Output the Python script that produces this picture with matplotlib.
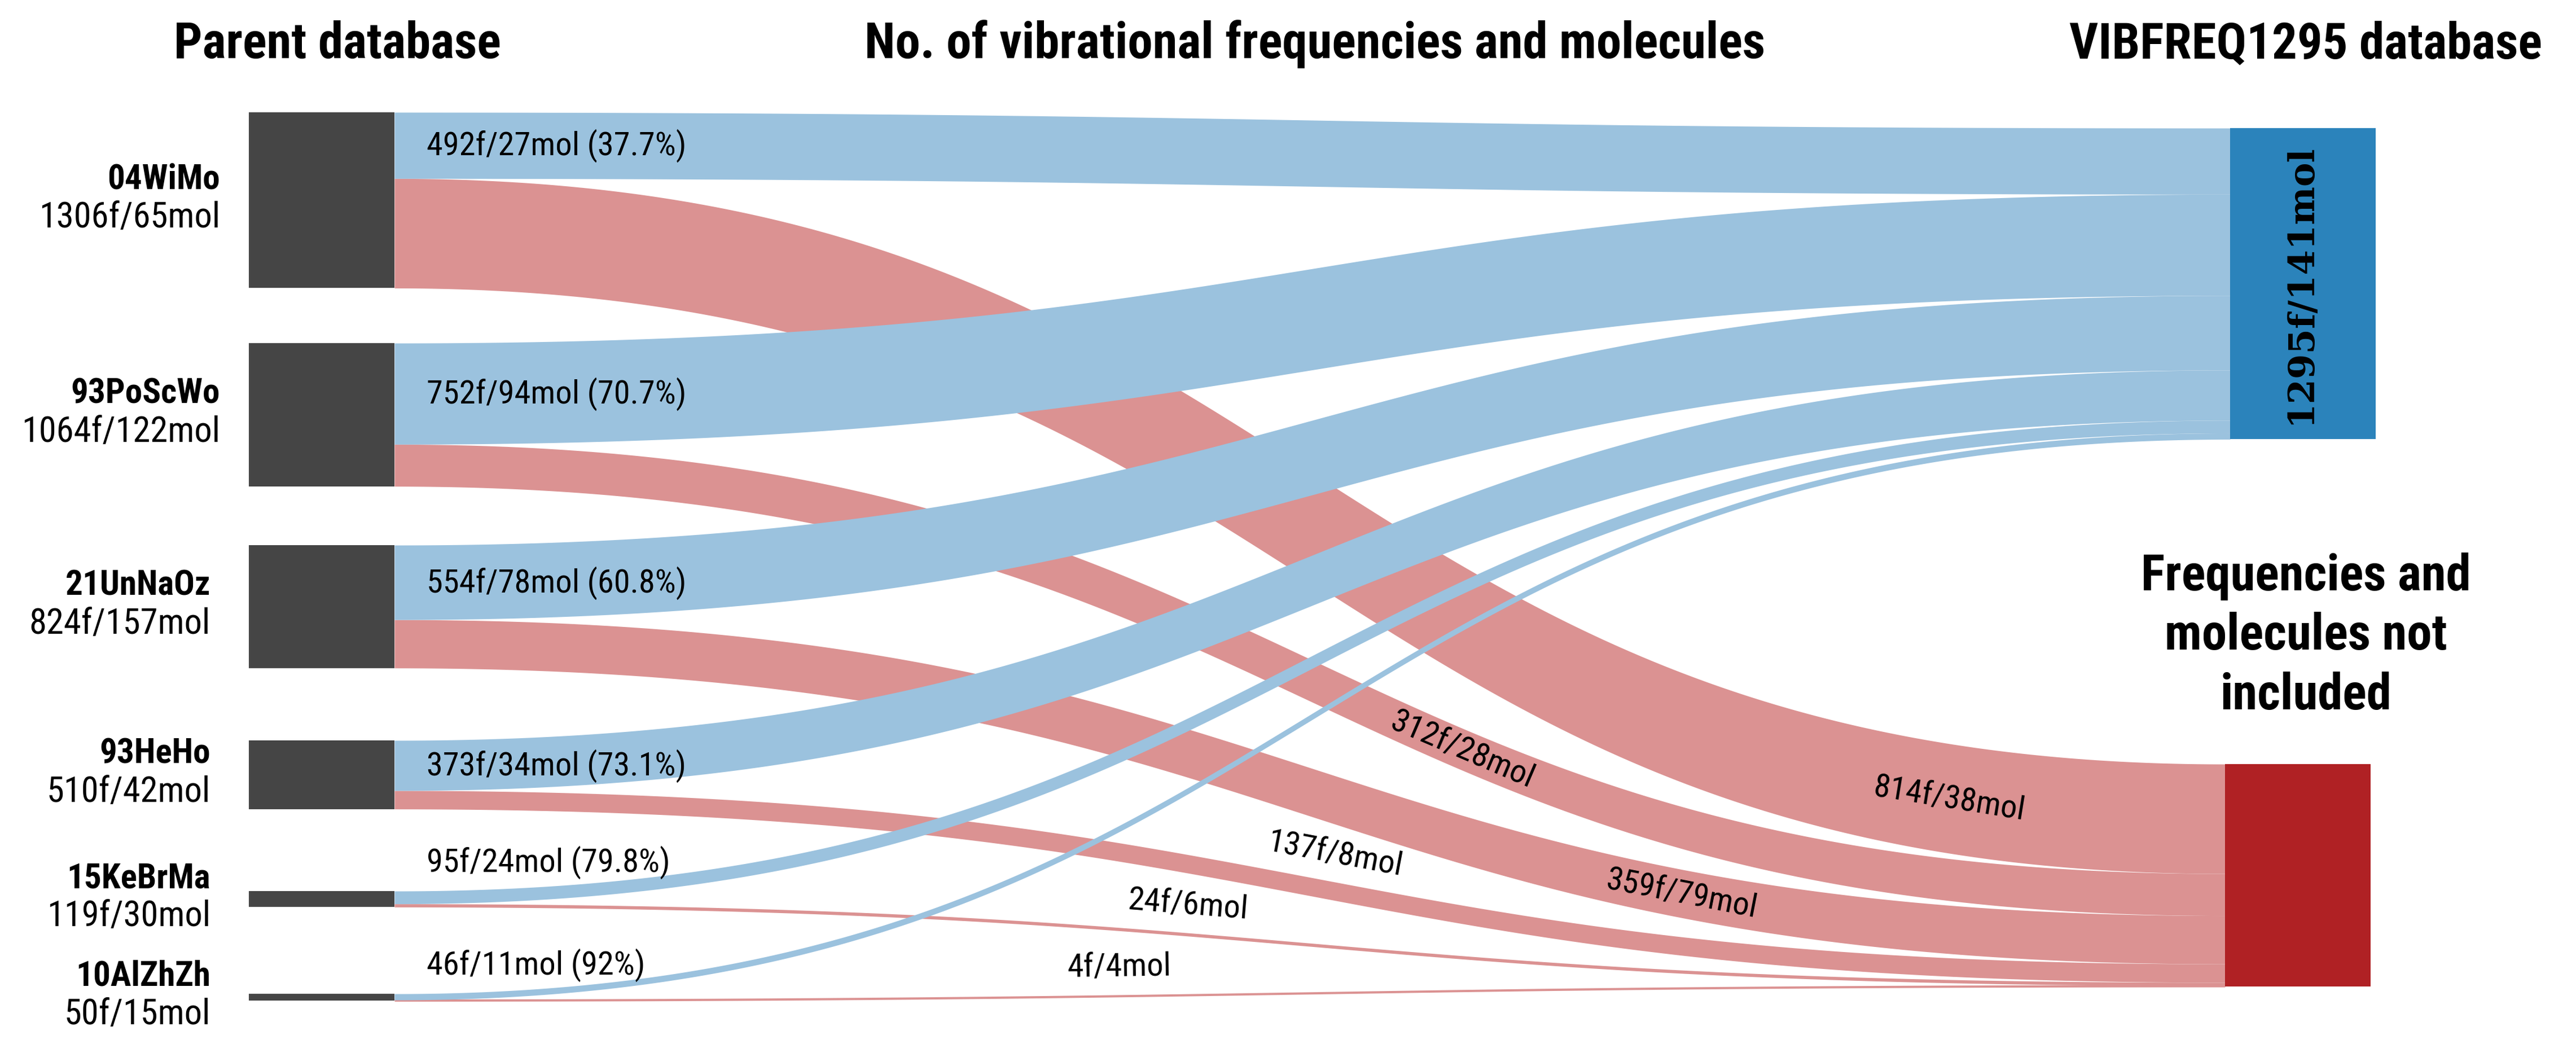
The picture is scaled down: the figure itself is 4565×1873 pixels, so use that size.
import numpy as np
import matplotlib
matplotlib.use('Agg')
import matplotlib.pyplot as plt
from matplotlib import font_manager as fm
from matplotlib.patches import Rectangle

# --- data ---
parents = ['04WiMo', '93PoScWo', '21UnNaOz', '93HeHo', '15KeBrMa', '10AlZhZh']
parent_totals = ['1306f/65mol', '1064f/122mol', '824f/157mol', '510f/42mol', '119f/30mol', '50f/15mol']
kept_freq = [492, 752, 554, 373, 95, 46]
kept_labels = ['492f/27mol (37.7%)', '752f/94mol (70.7%)', '554f/78mol (60.8%)',
               '373f/34mol (73.1%)', '95f/24mol (79.8%)', '46f/11mol (92%)']
dropped_freq = [814, 312, 359, 137, 24, 4]
dropped_labels = ['814f/38mol', '312f/28mol', '359f/79mol', '137f/8mol', '24f/6mol', '4f/4mol']
db_label = '1295f/141mol'

# --- layout (pixels) ---
W, H = 4565, 1874
k = 0.2385                      # px per frequency
min_w = 4                       # thinnest link drawn
src_x0, src_x1 = 441, 699
src_tops = [200, 609, 967, 1313, 1580, 1762]
name_right = [390, 390, 373, 373, 373, 373]
blue_x0, blue_x1, blue_top = 3952, 4210, 228
red_x0, red_x1, red_top = 3943, 4201, 1355
drop_label_x = [3454, 2591, 2980, 2366, 2105, 1983]

c_node = '#454545'
c_blue_node = '#2b83bb'
c_red_node = '#b02124'
c_blue_link = '#9bc2de'
c_red_link = '#db9292'


def pick(cands, default='DejaVu Sans'):
    names = {f.name for f in fm.fontManager.ttflist}
    for c in cands:
        if c in names:
            return c
    return default


sans = pick(['Roboto Condensed', 'Liberation Sans Narrow', 'Open Sans Condensed',
             'DejaVu Sans Condensed', 'Noto Sans Condensed', 'Liberation Sans'])
serif = pick(['DejaVu Serif', 'Liberation Serif'])
plt.rcParams['font.family'] = [sans, 'DejaVu Sans']


def band(x0, x1, a0, b0, a1, b1, n=300):
    # smooth link between two vertical segments (cubic, horizontal tangents)
    t = np.linspace(0, 1, n)
    u = 1.5 * t - 1.5 * t ** 2 + t ** 3
    s = 3 * t ** 2 - 2 * t ** 3
    x = x0 + (x1 - x0) * u
    top = a0 + (a1 - a0) * s
    bot = b0 + (b1 - b0) * s
    pad = np.maximum(min_w - (bot - top), 0) / 2
    return x, top - pad, bot + pad


fig = plt.figure(figsize=(W / 100, H / 100), dpi=100)
ax = fig.add_axes([0, 0, 1, 1])
ax.set_xlim(0, W)
ax.set_ylim(H, 0)
ax.axis('off')

# node positions from the values
src_h = [(a + b) * k for a, b in zip(kept_freq, dropped_freq)]
blue_pos = np.concatenate([[0], np.cumsum(kept_freq)]) * k + blue_top
red_pos = np.concatenate([[0], np.cumsum(dropped_freq)]) * k + red_top

# red links first, blue links on top
for i in range(len(parents)):
    s0 = src_tops[i] + kept_freq[i] * k
    s1 = s0 + dropped_freq[i] * k
    x, top, bot = band(src_x1, red_x0, s0, s1, red_pos[i], red_pos[i + 1])
    ax.fill_between(x, top, bot, color=c_red_link, lw=0)
    xl = drop_label_x[i]
    mid = (top + bot) / 2
    yc = np.interp(xl, x, mid)
    slope = np.interp(xl, x[1:], np.diff(mid) / np.diff(x))
    ang = -np.degrees(np.arctan(slope))
    if dropped_freq[i] * k < 40:
        yc = np.interp(xl, x, top) - 50
    ax.text(xl, yc, dropped_labels[i], fontsize=42, rotation=ang,
            rotation_mode='anchor', ha='center', va='center')

for i in range(len(parents)):
    s0 = src_tops[i]
    s1 = s0 + kept_freq[i] * k
    x, top, bot = band(src_x1, blue_x0, s0, s1, blue_pos[i], blue_pos[i + 1])
    ax.fill_between(x, top, bot, color=c_blue_link, lw=0)
    yl = (s0 + s1) / 2 if kept_freq[i] * k > 40 else s0 - 52
    ax.text(src_x1 + 57, yl, kept_labels[i], fontsize=42, ha='left', va='center')

# nodes
for i in range(len(parents)):
    ax.add_patch(Rectangle((src_x0, src_tops[i]), src_x1 - src_x0, src_h[i], color=c_node, lw=0))
    cy = src_tops[i] + src_h[i] / 2
    ax.text(name_right[i], cy - 38, parents[i], fontsize=44, fontweight='bold',
            ha='right', va='center')
    ax.text(name_right[i], cy + 30, parent_totals[i], fontsize=45, ha='right', va='center')

ax.add_patch(Rectangle((blue_x0, blue_top), blue_x1 - blue_x0, blue_pos[-1] - blue_top,
                       color=c_blue_node, lw=0))
ax.add_patch(Rectangle((red_x0, red_top), red_x1 - red_x0, red_pos[-1] - red_top,
                       color=c_red_node, lw=0))
ax.text((blue_x0 + blue_x1) / 2 - 4, (blue_top + blue_pos[-1]) / 2, db_label,
        family=serif, fontsize=46, fontweight='bold', rotation=90, ha='center', va='center')

# column titles
ax.text(598, 103, 'Parent database', fontsize=64, fontweight='bold', ha='center', va='baseline')
ax.text(2330, 103, 'No. of vibrational frequencies and molecules', fontsize=64,
        fontweight='bold', ha='center', va='baseline')
ax.text(4086, 103, 'VIBFREQ1295 database', fontsize=64, fontweight='bold',
        ha='center', va='baseline')
ax.text(4086, 1127, 'Frequencies and\nmolecules not\nincluded', fontsize=64,
        fontweight='bold', ha='center', va='center', linespacing=1.3)

fig.savefig('out.png', dpi=100)
